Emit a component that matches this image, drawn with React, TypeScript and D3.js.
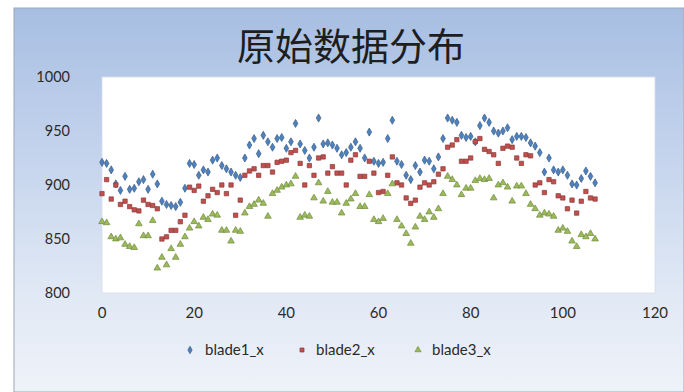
import React from "react";
import * as d3 from "d3";

const TITLE = "原始数据分布";
const SERIES_NAMES = ["blade1_x", "blade2_x", "blade3_x"];
const Y_TICKS = [800, 850, 900, 950, 1000];
const X_TICKS = [0, 20, 40, 60, 80, 100, 120];

const blade1 = [
  921, 920, 914, 901, 895, 908, 896, 897, 903, 905, 896, 910, 901, 885, 882, 881, 880, 884, 897, 920,
  919, 909, 914, 912, 923, 925, 918, 915, 912, 909, 907, 925, 937, 943, 929, 946, 940, 935, 943, 944,
  934, 940, 957, 938, 932, 925, 935, 962, 938, 939, 937, 934, 928, 930, 935, 940, 934, 925, 949, 922,
  920, 921, 943, 960, 922, 919, 909, 905, 918, 912, 923, 922, 915, 926, 943, 962, 960, 958, 946, 944,
  945, 940, 955, 962, 958, 950, 948, 950, 953, 942, 945, 945, 944, 939, 936, 930, 912, 925, 914, 912,
  914, 909, 901, 900, 906, 913, 908, 902,
];

const blade2 = [
  892, 905, 887, 900, 882, 885, 880, 877, 876, 886, 882, 881, 878, 850, 852, 858, 858, 866, 872, 898,
  895, 899, 885, 890, 896, 893, 900, 892, 900, 872, 886, 909, 913, 915, 909, 918, 918, 912, 921, 922,
  923, 930, 932, 920, 900, 918, 909, 925, 926, 911, 917, 911, 911, 900, 923, 928, 908, 908, 922, 911,
  893, 894, 909, 926, 902, 900, 888, 883, 886, 898, 902, 900, 903, 910, 915, 935, 937, 942, 922, 922,
  925, 940, 943, 933, 931, 928, 920, 934, 936, 935, 925, 920, 928, 927, 900, 902, 893, 905, 903, 890,
  888, 878, 886, 874, 885, 894, 888, 887,
];

const blade3 = [
  866, 865, 852, 850, 851, 845, 843, 842, 864, 853, 853, 867, 823, 833, 826, 841, 833, 845, 852, 860,
  866, 862, 870, 868, 873, 872, 858, 858, 848, 858, 857, 874, 880, 882, 886, 883, 871, 892, 895, 898,
  900, 901, 908, 870, 872, 871, 888, 902, 885, 894, 884, 884, 874, 883, 887, 892, 880, 880, 891, 868,
  866, 869, 892, 901, 868, 862, 855, 846, 861, 871, 868, 875, 870, 878, 892, 908, 905, 900, 891, 897,
  897, 904, 906, 905, 906, 888, 900, 902, 898, 885, 899, 899, 892, 882, 878, 872, 874, 873, 871, 858,
  860, 857, 848, 843, 854, 852, 855, 850,
];

const SERIES = [blade1, blade2, blade3];
const FILLS = ["#4f81bd", "#c0504d", "#9bbb59"];
const STROKES = ["#385d8a", "#8c3836", "#71893f"];

const W = 684;
const H = 392;
const PLOT = { left: 102, right: 655, top: 77, bottom: 293 };

const x = d3.scaleLinear().domain([0, 120]).range([PLOT.left, PLOT.right]);
const y = d3.scaleLinear().domain([800, 1000]).range([PLOT.bottom, PLOT.top]);

const symbolTypes = [d3.symbolDiamond, d3.symbolSquare, d3.symbolTriangle];
const LABEL_FONT = "Lato, 'Open Sans', sans-serif";

function Marker({ s, cx, cy, size }: { s: number; cx: number; cy: number; size: number }) {
  const path = d3.symbol().type(symbolTypes[s]).size(size)() as string;
  return (
    <path
      d={path}
      transform={`translate(${cx},${cy})`}
      fill={FILLS[s]}
      stroke={STROKES[s]}
      strokeWidth={0.7}
    />
  );
}

export default function App() {
  const legendItems = [
    { mx: 190, tx: 205 },
    { mx: 302, tx: 316 },
    { mx: 418, tx: 432 },
  ];
  return (
    <div style={{ position: "fixed", left: 0, top: 0, width: W, height: H, background: "#fff" }}>
      <svg width={W} height={H} style={{ display: "block" }}>
        <defs>
          <linearGradient id="bg" x1="0" y1="0" x2="0" y2="1">
            <stop offset="0" stopColor="#a7bee2" />
            <stop offset="0.35" stopColor="#c2d2ec" />
            <stop offset="0.75" stopColor="#e1e9f5" />
            <stop offset="1" stopColor="#eef2f9" />
          </linearGradient>
        </defs>
        <rect x={14} y={8} width={W - 14} height={H - 8} fill="url(#bg)" stroke="#9aa8bd" strokeWidth={1} />
        <rect
          x={PLOT.left}
          y={PLOT.top}
          width={PLOT.right - PLOT.left}
          height={PLOT.bottom - PLOT.top}
          fill="#ffffff"
          stroke="#d6dde8"
          strokeWidth={0.8}
        />
        <text
          x={351}
          y={60}
          textAnchor="middle"
          fontFamily="'Noto Sans CJK SC', sans-serif"
          fontSize={38}
          fill="#1e1e1e"
        >
          {TITLE}
        </text>
        {Y_TICKS.map((t) => (
          <text key={t} x={70} y={y(t) + 5} textAnchor="end" fontFamily={LABEL_FONT} fontSize={14.5} fill="#2b2b2b">
            {t}
          </text>
        ))}
        {X_TICKS.map((t) => (
          <text key={t} x={x(t)} y={318} textAnchor="middle" fontFamily={LABEL_FONT} fontSize={15} fill="#2b2b2b">
            {t}
          </text>
        ))}
        {SERIES.map((vals, s) => (
          <g key={s}>
            {vals.map((v, i) => (
              <Marker key={i} s={s} cx={x(i)} cy={y(v)} size={19} />
            ))}
          </g>
        ))}
        {SERIES_NAMES.map((name, s) => (
          <g key={name}>
            <Marker s={s} cx={legendItems[s].mx} cy={350} size={16} />
            <text x={legendItems[s].tx} y={355} fontFamily={LABEL_FONT} fontSize={15} fill="#2b2b2b">
              {name}
            </text>
          </g>
        ))}
      </svg>
    </div>
  );
}
